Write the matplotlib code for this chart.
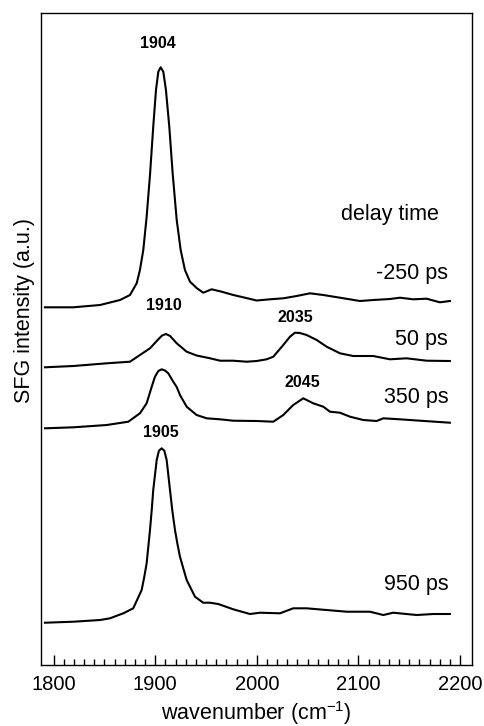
import numpy as np
import matplotlib
matplotlib.use("Agg")
import matplotlib.pyplot as plt
from matplotlib.ticker import MultipleLocator, FixedLocator

plt.rcParams['font.family'] = ['Liberation Sans', 'DejaVu Sans']

# SFG spectra, traces already offset (a.u.)
wn_m250 = [1791.4, 1819.3, 1845.6, 1865.3, 1875.1, 1881.7, 1884.9, 1888.2, 1891.5,
           1894.8, 1898.0, 1900.7, 1903.0, 1905.3, 1907.9, 1910.5, 1913.8, 1917.1,
           1921.1, 1925.0, 1929.2, 1934.2, 1940.7, 1947.2, 1955.5, 1965.4, 1976.8,
           1986.6, 1999.8, 2012.9, 2026.0, 2039.2, 2052.3, 2065.4, 2081.8, 2101.5,
           2114.6, 2131.0, 2140.9, 2153.9, 2167.1, 2180.2, 2190.0]
int_m250 = [357.7, 357.7, 360, 365, 370, 381.7, 395, 415, 448.3,
            490, 538.3, 575, 593.3, 597.7, 593.3, 575, 538.3, 491.7,
            445, 415, 395, 383.3, 377, 372.3, 375.7, 373.3, 370,
            367.7, 364.5, 365.7, 366.7, 369, 371.7, 370, 367.3, 364,
            365, 366, 367.3, 365.7, 366.3, 362.7, 364]

wn_50 = [1791.4, 1819.3, 1852.2, 1875.1, 1884.9, 1894.8, 1903.0, 1906.7, 1910.5,
         1914.6, 1921.1, 1930.9, 1940.7, 1954.0, 1963.8, 1976.8, 1990.0, 1999.8,
         2009.6, 2016.2, 2026.0, 2032.6, 2037.5, 2042.4, 2049.0, 2058.9, 2068.7,
         2081.8, 2094.9, 2114.6, 2131.0, 2147.4, 2167.1, 2190.0]
int_50 = [297.7, 299, 301.7, 303.3, 310, 316.7, 325.7, 329.5, 331,
          329, 321.7, 313.3, 309.5, 306.7, 304.3, 304.3, 303.3, 304,
          305.7, 308.3, 320, 328.3, 332.3, 332, 330, 325, 318.3,
          311.7, 309, 309, 305.7, 306.7, 304.3, 304]

wn_350 = [1791.4, 1819.3, 1852.2, 1873.4, 1884.9, 1891.5, 1896.5, 1899.7, 1903.0,
          1906.3, 1909.6, 1912.8, 1917.7, 1921.1, 1924.3, 1930.9, 1940.7, 1950.6,
          1963.7, 1976.8, 1999.8, 2016.2, 2026.0, 2035.8, 2045.7, 2055.5, 2065.4,
          2072.0, 2081.8, 2091.7, 2104.8, 2117.9, 2124.5, 2140.9, 2160.6, 2190.0]
int_350 = [236.7, 237.7, 240, 243.3, 251.7, 261.7, 278.3, 288.3, 294,
           295.7, 294.5, 291.7, 283.3, 278, 270, 258.3, 250, 246.7,
           245.7, 244.3, 244, 243.3, 250, 260, 266.7, 261.7, 258.3,
           253.3, 252.3, 248.3, 245, 244, 246.7, 245.7, 244.3, 242.3]

wn_950 = [1791.4, 1819.3, 1845.6, 1855.4, 1868.5, 1878.3, 1886.6, 1889.2, 1891.5,
          1894.8, 1896.5, 1898.0, 1901.4, 1903.6, 1906.3, 1908.9, 1911.2, 1914.5,
          1916.7, 1919.4, 1921.7, 1924.3, 1930.9, 1939.1, 1947.2, 1953.8, 1962.0,
          1976.8, 1993.2, 2003.1, 2022.7, 2035.8, 2049.0, 2068.7, 2088.4, 2111.3,
          2124.5, 2134.3, 2157.3, 2173.6, 2190.0]
int_950 = [42.3, 43.3, 45, 46.7, 51.7, 56.7, 75, 88.3, 101.7,
           135, 155, 175, 205, 214.3, 216.7, 214.3, 205, 175,
           155, 135, 121.7, 108.3, 85, 68.3, 62.3, 62.3, 61,
           55.7, 51, 52.3, 51.7, 56.7, 56.7, 55, 53.3, 53.3,
           50, 52.3, 50, 51, 51]

delay_labels = ['-250 ps', '50 ps', '350 ps', '950 ps']
delay_label_y = [385.7, 320, 262.3, 75]

peak_labels = ['1904', '1910', '2035', '2045', '1905']
peak_label_x = [1903.0, 1908.5, 2037.5, 2045.1, 1905.6]
peak_label_y = [621.7, 360, 347.7, 282.3, 232.3]

fig = plt.figure(figsize=(4.84, 7.26), dpi=100)
ax = fig.add_axes([0.0847, 0.0840, 0.8899, 0.8981])

for wn, inten in [(wn_m250, int_m250), (wn_50, int_50),
                  (wn_350, int_350), (wn_950, int_950)]:
    ax.plot(wn, inten, color='black', lw=1.5, solid_joinstyle='round')

for lab, y in zip(delay_labels, delay_label_y):
    ax.text(2188.4, y, lab, ha='right', va='baseline', fontsize=15.5)
ax.text(2179.5, 445, 'delay time', ha='right', va='baseline', fontsize=15.5)

for lab, x, y in zip(peak_labels, peak_label_x, peak_label_y):
    ax.text(x, y, lab, ha='center', va='center', fontsize=11.5, fontweight='bold')

ax.set_xlim(1787.5, 2211.5)
ax.set_ylim(0, 652)
ax.set_yticks([])
ax.xaxis.set_major_locator(MultipleLocator(100))
ax.xaxis.set_minor_locator(FixedLocator(np.arange(1800, 2201, 10)))
ax.tick_params(axis='x', which='major', direction='in', length=7, width=1.0,
               labelsize=14.5, pad=7)
ax.tick_params(axis='x', which='minor', direction='in', length=4, width=1.0)
for sp in ax.spines.values():
    sp.set_linewidth(1.0)

ax.set_xlabel('wavenumber (cm$^{\\mathregular{-1}}$)', fontsize=15.5)
ax.xaxis.label.set_va('baseline')
ax.xaxis.set_label_coords(0.5, -0.0845)
fig.text(0.0496, 0.5723, 'SFG intensity (a.u.)', rotation=90,
         ha='center', va='center', fontsize=15.5)

fig.savefig('out.png', dpi=100)
